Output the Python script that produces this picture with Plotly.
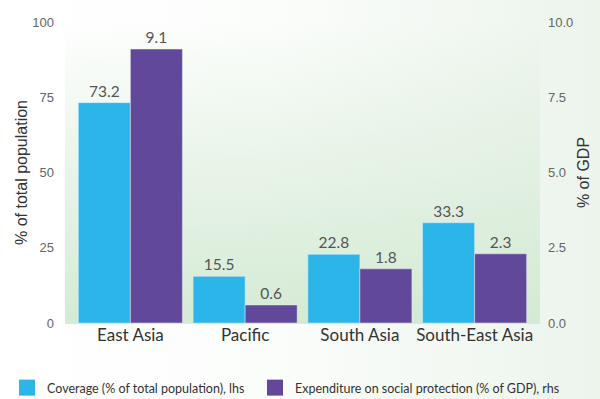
import base64
import plotly.graph_objects as go

categories = ["East Asia", "Pacific", "South Asia", "South-East Asia"]
coverage = [73.2, 15.5, 22.8, 33.3]
expenditure = [9.1, 0.6, 1.8, 2.3]
left_ticks = [0, 25, 50, 75, 100]
right_ticks = [0.0, 2.5, 5.0, 7.5, 10.0]
names = ["Coverage (% of total population), lhs",
         "Expenditure on social protection (% of GDP), rhs"]

CYAN = "#2bb5e8"
PURPLE = "#62489b"

def svg_uri(svg):
    return "data:image/svg+xml;base64," + base64.b64encode(svg.encode()).decode()

paper_grad = svg_uri(
    '<svg xmlns="http://www.w3.org/2000/svg" width="600" height="399" preserveAspectRatio="none">'
    '<defs><linearGradient id="g" x1="0" y1="0" x2="1" y2="0">'
    '<stop offset="0" stop-color="#ffffff"/><stop offset="0.45" stop-color="#fbfdfb"/>'
    '<stop offset="1" stop-color="#ecf4ec"/></linearGradient></defs>'
    '<rect width="600" height="399" fill="url(#g)"/></svg>')
plot_grad = svg_uri(
    '<svg xmlns="http://www.w3.org/2000/svg" width="472" height="301" preserveAspectRatio="none">'
    '<defs><linearGradient id="g" x1="0" y1="0" x2="0" y2="1">'
    '<stop offset="0" stop-color="#d4ead4" stop-opacity="0"/>'
    '<stop offset="1" stop-color="#d4ead4" stop-opacity="1"/></linearGradient></defs>'
    '<rect width="472" height="301" fill="url(#g)"/></svg>')

W, H = 600, 399
L, R, T, B = 73, 68, 22, 76
pw, ph = W - L - R, H - T - B
PAD = 8  # plot background extends beyond the axis domain horizontally

def px_x(px):
    return (px - L) / pw

def px_y(py):
    return (H - B - py) / ph

label_font = dict(family="Lato", size=15.5, color="#555555")

fig = go.Figure()
fig.add_trace(go.Bar(
    x=categories, y=coverage, name=names[0], showlegend=False,
    marker_color=CYAN, offsetgroup="1", yaxis="y",
    text=coverage, texttemplate="%{y:.1f}", textposition="outside",
    textfont=label_font, cliponaxis=False))
fig.add_trace(go.Bar(
    x=categories, y=expenditure, name=names[1], showlegend=False,
    marker_color=PURPLE, offsetgroup="2", yaxis="y2",
    text=expenditure, texttemplate="%{y:.1f}", textposition="outside",
    textfont=label_font, cliponaxis=False))
# legend proxies (larger square swatches)
fig.add_trace(go.Scatter(x=[None], y=[None], mode="markers", name=names[0],
                         marker=dict(symbol="square", size=17, color=CYAN),
                         legend="legend", showlegend=True))
fig.add_trace(go.Scatter(x=[None], y=[None], mode="markers", name=names[1],
                         marker=dict(symbol="square", size=17, color=PURPLE),
                         legend="legend2", showlegend=True))

legend_style = dict(orientation="h", xanchor="left", yanchor="middle", y=px_y(388),
                    font=dict(family="Lato", size=12.5, color="#333333"),
                    bgcolor="rgba(0,0,0,0)", itemwidth=30, itemsizing="trace",
                    visible=True)

fig.update_layout(
    width=W, height=H, showlegend=True,
    margin=dict(l=L, r=R, t=T, b=B, autoexpand=False),
    paper_bgcolor="rgba(0,0,0,0)", plot_bgcolor="rgba(0,0,0,0)",
    barmode="group", bargap=0.093, bargroupgap=0,
    font=dict(family="Liberation Sans, Arial", color="#666666"),
    xaxis=dict(showgrid=False, showline=False, ticks="", automargin=False,
               tickfont=dict(family="Lato", size=17, color="#333333")),
    yaxis=dict(range=[0, 100], tickvals=left_ticks, ticktext=[str(v) for v in left_ticks],
               showgrid=False, zeroline=False, showline=False, automargin=False,
               ticklabelstandoff=18,
               tickfont=dict(size=13, color="#666666"),
               title=dict(text="% of total population", font=dict(size=16, color="#333333"), standoff=0)),
    yaxis2=dict(range=[0, 10], tickvals=right_ticks, ticktext=[f"{v:.1f}" for v in right_ticks],
                overlaying="y", side="right", showgrid=False, zeroline=False, showline=False,
                automargin=False, ticklabelstandoff=15,
                tickfont=dict(size=13, color="#666666"),
                title=dict(text="% of GDP", font=dict(size=16, color="#333333"), standoff=5)),
    legend=dict(x=px_x(7), **legend_style),
    legend2=dict(x=px_x(255), **legend_style),
    images=[
        dict(source=paper_grad, xref="paper", yref="paper",
             x=px_x(0), y=1 + T / ph, sizex=W / pw, sizey=H / ph,
             xanchor="left", yanchor="top", sizing="stretch", layer="below"),
        dict(source=plot_grad, xref="paper", yref="paper",
             x=px_x(L - PAD), y=1, sizex=(pw + 2 * PAD) / pw, sizey=1.003,
             xanchor="left", yanchor="top", sizing="stretch", layer="below"),
    ],
)

fig.write_html("out.html", config={"displayModeBar": False},
               post_script="document.body.style.margin='0px';")
